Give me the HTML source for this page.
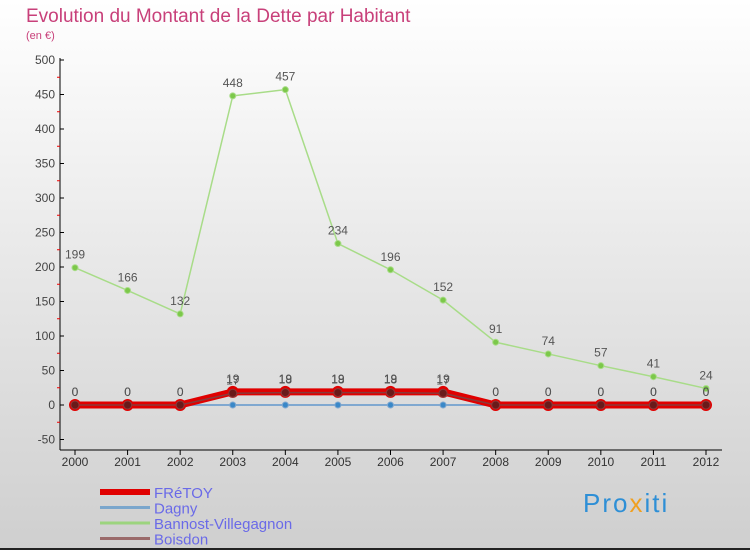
<!DOCTYPE html>
<html><head><meta charset="utf-8"><style>
body{margin:0}
#c{width:750px;height:550px;position:relative;background:linear-gradient(#ffffff,#cfcfcf);font-family:"Liberation Sans",sans-serif;overflow:hidden;border-bottom:2px solid #222;box-sizing:border-box}
</style></head><body>
<div id="c">
<svg id="s" width="750" height="550" style="position:absolute;left:0;top:0">
<text x="26" y="22" font-size="19" fill="#c8407a">Evolution du Montant de la Dette par Habitant</text>
<text x="26" y="39" font-size="11" fill="#c8407a">(en €)</text>
</svg>
<div style="position:absolute;left:583px;top:488px;font-size:26px;font-family:'Liberation Sans',sans-serif;letter-spacing:2px"><span style="color:#2e8fd6">Pro</span><span style="color:#f0a020">x</span><span style="color:#2e8fd6">iti</span></div>
</div>
<script>
const years=[2000,2001,2002,2003,2004,2005,2006,2007,2008,2009,2010,2011,2012];
const fretoy=[0,0,0,19,19,19,19,19,0,0,0,0,0];
const dagny=[0,0,0,0,0,0,0,0,0,0,0,0,0];
const bannost=[199,166,132,448,457,234,196,152,91,74,57,41,24];
const boisdon=[0,0,0,17,18,18,18,17,0,0,0,0,0];
const yTicks=[-50,0,50,100,150,200,250,300,350,400,450,500];
const names=["FRéTOY","Dagny","Bannost-Villegagnon","Boisdon"];
const NS="http://www.w3.org/2000/svg",s=document.getElementById('s');
const X=i=>75+i*(706-75)/(years.length-1);
const Y=v=>405-v*0.69;
function mk(t,a,p){const e=document.createElementNS(NS,t);for(const k in a)e.setAttribute(k,a[k]);(p||s).appendChild(e);return e;}
let ax=mk('line',{x1:60,y1:58,x2:60,y2:450,stroke:'#000'});


let bx=mk('line',{x1:60,y1:450,x2:722,y2:450,stroke:'#000'});


yTicks.forEach(v=>{
 mk('line',{x1:60,y1:Y(v),x2:64,y2:Y(v),stroke:'#000'});
 if(v<500) mk('line',{x1:57,y1:Y(v+25),x2:60,y2:Y(v+25),stroke:'#e00'});
 const t=mk('text',{x:55,y:Y(v)+4,'font-size':12,'text-anchor':'end',fill:'#444'});t.textContent=v;
 
 
});
years.forEach((y,i)=>{
 mk('line',{x1:X(i),y1:450,x2:X(i),y2:455,stroke:'#000'});
 const t=mk('text',{x:X(i),y:466,'font-size':12,'text-anchor':'middle',fill:'#333'});t.textContent=y;
 
 
});
function series(d,col,w,r,dot,nm,lbl){
 const g=mk('g',{});
 
 
 mk('polyline',{points:d.map((v,i)=>X(i)+','+Y(v)).join(' '),fill:'none',stroke:col,'stroke-width':w,'stroke-linejoin':'round'},g);
 d.forEach((v,i)=>{
  const c=mk('circle',{cx:X(i),cy:Y(v),r:r,fill:dot,stroke:col,'stroke-width':1},g);
  
  
  if(lbl){const t=mk('text',{x:X(i),y:Y(v)-9,'font-size':12,'text-anchor':'middle',fill:'#555'},g);t.textContent=v;}
 });
}
series(bannost,'#a8dc88',1.5,3,'#7cc84a','bannost-series',true);
series(dagny,'#80a8d0',2,3,'#3a88c8','dagny-series',false);
series(fretoy,'#e00000',7,5.5,'#e00000','fretoy-series',true);
series(boisdon,'#8a3a3a',1.5,4,'#6a1a1a','boisdon-series',true);
const cols=['#e00000','#7aa6cc','#9cd47e','#9a6a6a'],ws=[6,3,3,3];
names.forEach((n,i)=>{
 const y=492+i*15.5;
 const l=mk('line',{x1:100,y1:y,x2:150,y2:y,stroke:cols[i],'stroke-width':ws[i]});
 
 
 const t=mk('text',{x:154,y:y+6,'font-size':15,fill:'#6a6ae8'});t.textContent=n;
 
 
});
</script>
</body></html>
